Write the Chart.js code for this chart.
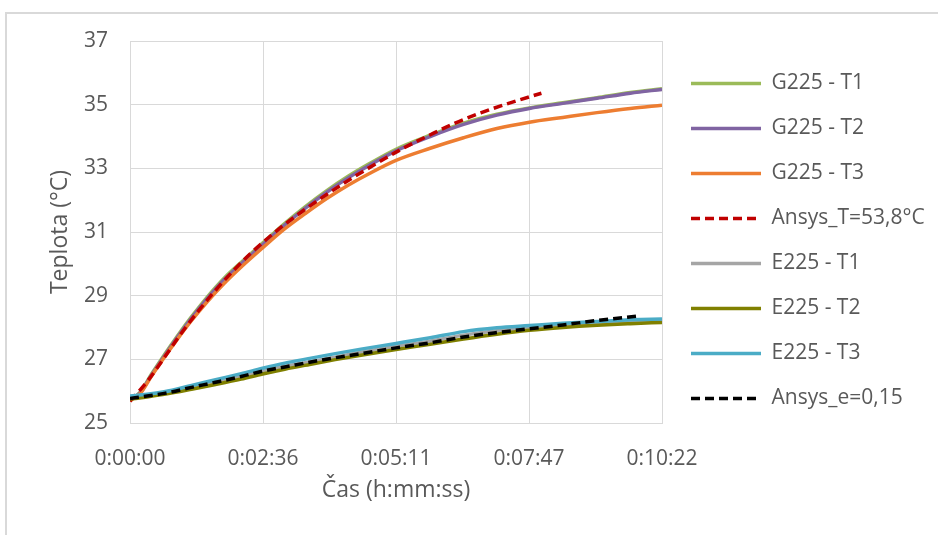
<!DOCTYPE html>
<html>
<head>
<meta charset="utf-8">
<script src="https://cdn.jsdelivr.net/npm/chart.js@4.4.1/dist/chart.umd.min.js"></script>
<style>
html,body{margin:0;padding:0;background:#fff;width:938px;height:535px;overflow:hidden;}
#frame{position:absolute;left:5px;top:12px;width:1000px;height:600px;border-left:2px solid #d9d9d9;border-top:2px solid #d9d9d9;}
#wrap{position:absolute;left:0;top:0;width:938px;height:535px;}
</style>
</head>
<body>
<div id="frame"></div>
<div id="wrap"><canvas id="c" width="938" height="535"></canvas></div>
<script>
// ---- data (time in seconds, temperature in °C) ----
const tMeas   = [0, 12, 25, 40, 55, 72, 90, 110, 130, 155, 180, 205, 230, 255, 280, 311, 351, 390, 429, 467, 506, 546, 585, 622];
const g225T1  = [25.72, 25.97, 26.53, 27.14, 27.72, 28.34, 28.95, 29.55, 30.05, 30.65, 31.25, 31.80, 32.30, 32.75, 33.15, 33.60, 34.04, 34.42, 34.70, 34.90, 35.06, 35.22, 35.38, 35.50];
const g225T2  = [25.72, 25.95, 26.50, 27.10, 27.68, 28.30, 28.90, 29.50, 30.00, 30.60, 31.20, 31.75, 32.25, 32.70, 33.10, 33.55, 34.00, 34.38, 34.67, 34.88, 35.04, 35.20, 35.36, 35.48];
const g225T3  = [25.70, 25.93, 26.47, 27.06, 27.62, 28.22, 28.80, 29.38, 29.90, 30.50, 31.08, 31.58, 32.05, 32.47, 32.84, 33.25, 33.63, 33.96, 34.25, 34.45, 34.60, 34.75, 34.88, 34.98];
const tAnsysT = [0, 20, 40, 60, 80, 100, 120, 140, 160, 180, 200, 230, 260, 290, 320, 350, 380, 410, 440, 481];
const ansysT  = [25.68, 26.30, 27.05, 27.82, 28.52, 29.17, 29.76, 30.30, 30.78, 31.22, 31.62, 32.18, 32.70, 33.18, 33.64, 34.04, 34.42, 34.74, 35.02, 35.36];
const tE      = [0, 20, 40, 72, 100, 130, 155, 181, 210, 240, 270, 311, 351, 390, 429, 467, 506, 546, 585, 622];
const e225T1  = [25.80, 25.86, 25.94, 26.12, 26.28, 26.46, 26.64, 26.78, 26.92, 27.07, 27.22, 27.41, 27.57, 27.76, 27.90, 27.99, 28.06, 28.13, 28.18, 28.21];
const e225T2  = [25.75, 25.82, 25.90, 26.06, 26.21, 26.38, 26.54, 26.69, 26.84, 26.99, 27.13, 27.31, 27.47, 27.64, 27.79, 27.91, 28.00, 28.07, 28.12, 28.16];
const e225T3  = [25.85, 25.90, 25.98, 26.18, 26.36, 26.55, 26.72, 26.88, 27.03, 27.18, 27.32, 27.50, 27.68, 27.87, 27.99, 28.06, 28.13, 28.19, 28.24, 28.27];
const tAnsysE = [0, 20, 40, 72, 100, 130, 155, 181, 210, 240, 270, 311, 351, 390, 429, 467, 506, 546, 595];
const ansysE  = [25.77, 25.85, 25.93, 26.12, 26.28, 26.46, 26.63, 26.76, 26.91, 27.05, 27.18, 27.36, 27.52, 27.70, 27.84, 27.96, 28.08, 28.22, 28.36];

const xTickValues = [0, 155.5, 311, 466.5, 622];
const xTickLabels = ['0:00:00', '0:02:36', '0:05:11', '0:07:47', '0:10:22'];
const seriesNames = ['G225 - T1', 'G225 - T2', 'G225 - T3', 'Ansys_T=53,8°C', 'E225 - T1', 'E225 - T2', 'E225 - T3', 'Ansys_e=0,15'];

const pts = (ts, vs) => ts.map((t, i) => ({x: t, y: vs[i]}));

const styles = [
  {color: '#9BBB59', dash: []},
  {color: '#8064A2', dash: []},
  {color: '#ED7D31', dash: []},
  {color: '#C00000', dash: [9, 5]},
  {color: '#A5A5A5', dash: []},
  {color: '#808000', dash: []},
  {color: '#4BACC6', dash: []},
  {color: '#000000', dash: [9, 5]}
];
const seriesData = [
  pts(tMeas, g225T1), pts(tMeas, g225T2), pts(tMeas, g225T3), pts(tAnsysT, ansysT),
  pts(tE, e225T1), pts(tE, e225T2), pts(tE, e225T3), pts(tAnsysE, ansysE)
];

// later series drawn on top: reverse the list, legend shows it reversed back
const datasets = seriesNames.map((name, i) => ({
  label: name,
  data: seriesData[i],
  borderColor: styles[i].color,
  backgroundColor: styles[i].color,
  borderDash: styles[i].dash,
  borderWidth: 3.5,
  pointRadius: 0,
  fill: false,
  cubicInterpolationMode: 'monotone'
})).reverse();

Chart.defaults.font.family = "'Open Sans', sans-serif";
Chart.defaults.color = '#595959';

const legendNudge = {
  id: 'legendNudge',
  afterLayout(chart) {
    const lg = chart.legend;
    if (!lg) return;
    lg.left += 5; lg.right += 5;
    lg.top += 8; lg.bottom += 8;
  }
};

const baseLabels = Chart.defaults.plugins.legend.labels.generateLabels;

new Chart(document.getElementById('c'), {
  type: 'line',
  data: {datasets},
  plugins: [legendNudge],
  options: {
    responsive: false,
    devicePixelRatio: 1,
    animation: false,
    layout: {padding: {top: 41, left: 0, right: 0, bottom: 0}},
    plugins: {
      tooltip: {enabled: false},
      legend: {
        position: 'right',
        align: 'start',
        reverse: true,
        maxWidth: 276,
        labels: {
          usePointStyle: true,
          pointStyle: 'line',
          pointStyleWidth: 70,
          boxHeight: 21,
          padding: 24,
          color: '#595959',
          font: {size: 21},
          generateLabels: (chart) => baseLabels(chart).map(item => {
            const ds = chart.data.datasets[item.datasetIndex];
            item.lineDash = ds.borderDash;
            item.lineWidth = 3.5;
            item.strokeStyle = ds.borderColor;
            return item;
          })
        }
      }
    },
    scales: {
      x: {
        type: 'linear',
        min: 0,
        max: 622,
        afterBuildTicks: (s) => { s.ticks = xTickValues.map(v => ({value: v})); },
        afterFit: (s) => { s.height = 112; s.paddingRight = 938 - 662; s.paddingLeft = 0; },
        grid: {color: '#d9d9d9', lineWidth: 1, drawTicks: false},
        border: {color: '#d9d9d9', width: 1},
        ticks: {
          padding: 23,
          maxRotation: 0,
          autoSkip: false,
          font: {size: 21},
          color: '#595959',
          callback: (v, i) => xTickLabels[i]
        },
        title: {display: true, text: 'Čas (h:mm:ss)', color: '#595959', font: {size: 23}, padding: {top: 0, bottom: 31}}
      },
      y: {
        min: 25,
        max: 37,
        afterFit: (s) => { s.width = 130; s.paddingTop = 0; s.paddingBottom = 0; },
        grid: {color: '#d9d9d9', lineWidth: 1, drawTicks: false},
        border: {color: '#d9d9d9', width: 1},
        ticks: {stepSize: 2, padding: 22, font: {size: 21}, color: '#595959'},
        title: {display: true, text: 'Teplota (°C)', color: '#595959', font: {size: 23}, padding: {top: 47, bottom: 0}}
      }
    }
  }
});
</script>
</body>
</html>
